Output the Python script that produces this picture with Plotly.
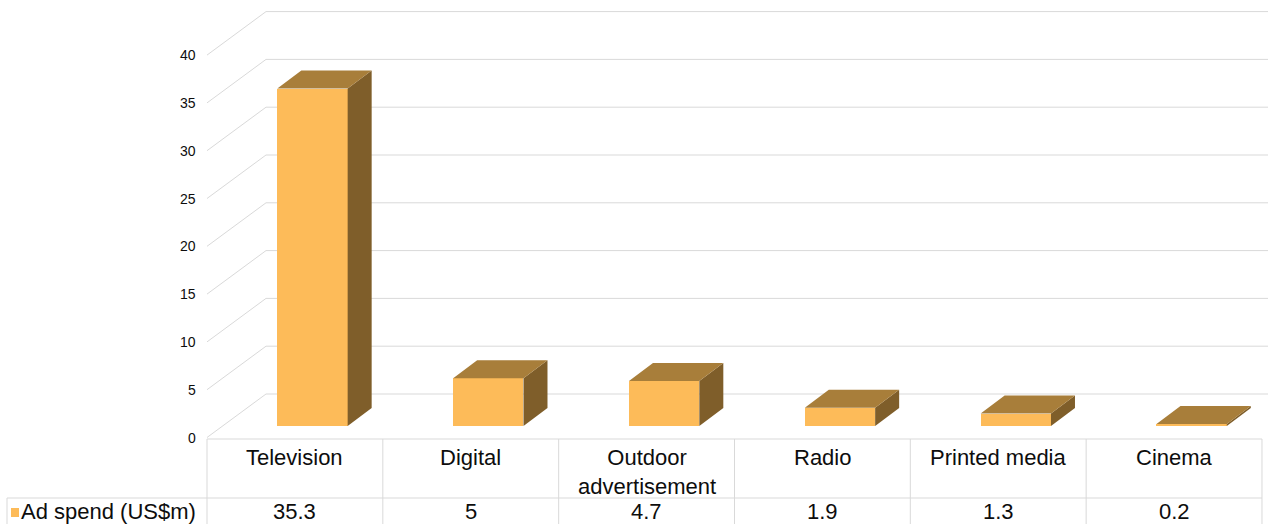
import plotly.graph_objects as go

# ---- data ----
categories = ["Television", "Digital", "Outdoor<br>advertisement", "Radio", "Printed media", "Cinema"]
values = [35.3, 5, 4.7, 1.9, 1.3, 0.2]
value_labels = ["35.3", "5", "4.7", "1.9", "1.3", "0.2"]
tick_values = [0, 5, 10, 15, 20, 25, 30, 35, 40]
series_name = "Ad spend (US$m)"

# ---- geometry (pixel calibration of the pseudo-3D view) ----
W, H = 1268, 524
X0_PX, COL_PX = 207, 175.83
Y0_PX, UNIT_PX = 437.5, 9.56
xr = [-X0_PX / COL_PX, (W - X0_PX) / COL_PX]
yr = [(Y0_PX - H) / UNIT_PX, Y0_PX / UNIT_PX]
WALL_DX = 59 / COL_PX
WALL_DY = 43.5 / UNIT_PX
BAR_BASE = 11.5 / UNIT_PX
BAR_L, BAR_R = 0.40, 0.80
BAR_DX = 24 / COL_PX
BAR_DY = 18 / UNIT_PX
TABLE_LEFT = -200 / COL_PX
TABLE_TOP = (Y0_PX - 439) / UNIT_PX
TABLE_MID = (Y0_PX - 498) / UNIT_PX
TABLE_BOT = yr[0]

FRONT = "#FDBB59"
TOP = "#A87E3A"
SIDE = "#7F5E2A"
GRID = "#D9D9D9"
TEXT = "#0d0d0d"
FONT = "Liberation Sans, Arial, sans-serif"

n = len(categories)
fig = go.Figure()

# front faces
fig.add_trace(go.Bar(
    x=[i + (BAR_L + BAR_R) / 2 for i in range(n)],
    y=values,
    base=BAR_BASE,
    width=BAR_R - BAR_L,
    marker=dict(color=FRONT, line=dict(width=0)),
    hoverinfo="skip",
))

# side faces
sx, sy = [], []
for i, v in enumerate(values):
    xa, xb = i + BAR_R, i + BAR_R + BAR_DX
    sx += [xa, xb, xb, xa, xa, None]
    sy += [BAR_BASE, BAR_BASE + BAR_DY, BAR_BASE + BAR_DY + v, BAR_BASE + v, BAR_BASE, None]
fig.add_trace(go.Scatter(x=sx, y=sy, mode="lines", fill="toself", fillcolor=SIDE,
                         line=dict(width=0, color=SIDE), hoverinfo="skip"))

# top faces
tx, ty = [], []
for i, v in enumerate(values):
    top = BAR_BASE + v
    tx += [i + BAR_L, i + BAR_R, i + BAR_R + BAR_DX, i + BAR_L + BAR_DX, i + BAR_L, None]
    ty += [top, top, top + BAR_DY, top + BAR_DY, top, None]
fig.add_trace(go.Scatter(x=tx, y=ty, mode="lines", fill="toself", fillcolor=TOP,
                         line=dict(width=0, color=TOP), hoverinfo="skip"))

shapes = []
annotations = []
# gridlines (diagonal on side wall + horizontal on back wall)
for v in tick_values:
    shapes.append(dict(type="line", xref="x", yref="y", x0=0, y0=v, x1=WALL_DX, y1=v + WALL_DY,
                       line=dict(color=GRID, width=1), layer="below"))
    shapes.append(dict(type="line", xref="x", yref="y", x0=WALL_DX, y0=v + WALL_DY, x1=xr[1], y1=v + WALL_DY,
                       line=dict(color=GRID, width=1), layer="below"))
    annotations.append(dict(x=-9 / COL_PX, y=v, xref="x", yref="y", text=str(v), showarrow=False,
                            xanchor="right", yanchor="middle", font=dict(size=14, color=TEXT, family=FONT)))

# data table lines
shapes.append(dict(type="line", xref="x", yref="y", x0=0, y0=TABLE_TOP, x1=n, y1=TABLE_TOP,
                   line=dict(color=GRID, width=1)))
shapes.append(dict(type="line", xref="x", yref="y", x0=TABLE_LEFT, y0=TABLE_MID, x1=n, y1=TABLE_MID,
                   line=dict(color=GRID, width=1)))
shapes.append(dict(type="line", xref="x", yref="y", x0=TABLE_LEFT, y0=TABLE_MID, x1=TABLE_LEFT, y1=TABLE_BOT,
                   line=dict(color=GRID, width=1)))
for i in range(n + 1):
    shapes.append(dict(type="line", xref="x", yref="y", x0=i, y0=TABLE_TOP, x1=i, y1=TABLE_BOT,
                       line=dict(color=GRID, width=1)))

for i, (c, lab) in enumerate(zip(categories, value_labels)):
    annotations.append(dict(x=i + 0.5, y=(Y0_PX - 443) / UNIT_PX, xref="x", yref="y", text=c,
                            showarrow=False, xanchor="center", yanchor="top",
                            font=dict(size=22, color=TEXT, family=FONT)))
    annotations.append(dict(x=i + 0.5, y=(Y0_PX - 511) / UNIT_PX, xref="x", yref="y", text=lab,
                            showarrow=False, xanchor="center", yanchor="middle",
                            font=dict(size=22, color=TEXT, family=FONT)))

# legend key in table
shapes.append(dict(type="rect", xref="x", yref="y",
                   x0=TABLE_LEFT + 4 / COL_PX, x1=TABLE_LEFT + 12 / COL_PX,
                   y0=(Y0_PX - 517) / UNIT_PX, y1=(Y0_PX - 508) / UNIT_PX,
                   fillcolor=FRONT, line=dict(width=0)))
annotations.append(dict(x=TABLE_LEFT + 12 / COL_PX, y=(Y0_PX - 511) / UNIT_PX, xref="x", yref="y",
                        text=series_name, showarrow=False, xanchor="left", yanchor="middle",
                        font=dict(size=22, color=TEXT, family=FONT)))

fig.update_layout(
    width=W, height=H,
    margin=dict(l=0, r=0, t=0, b=0),
    paper_bgcolor="white", plot_bgcolor="white",
    showlegend=False,
    xaxis=dict(range=xr, visible=False, fixedrange=True),
    yaxis=dict(range=yr, visible=False, fixedrange=True),
    shapes=shapes, annotations=annotations,
    bargap=0,
)

fig.write_html("out.html", config={"displayModeBar": False})
